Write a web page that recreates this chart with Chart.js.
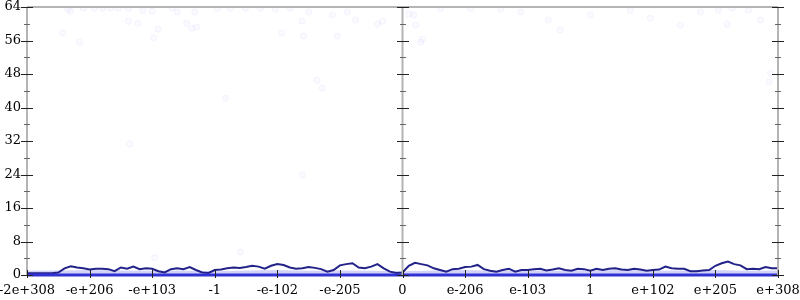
<!DOCTYPE html>
<html>
<head>
<meta charset="utf-8">
<script src="https://cdn.jsdelivr.net/npm/chart.js@4.4.1/dist/chart.umd.min.js"></script>
<style>
  html, body { margin: 0; padding: 0; background: #fff; }
  #wrap { width: 800px; height: 300px; }
</style>
</head>
<body>
<div id="wrap"><canvas id="plotChart" width="800" height="300"></canvas></div>
<script>
// x tick labels, one per integer position from -6 to 6
var xLabels = ['-2e+308', '-e+206', '-e+103', '-1', '-e-102', '-e-205', '0',
               'e-206', 'e-103', '1', 'e+102', 'e+205', 'e+308'];

// main line: sampled every 0.1 from -6 to 6
var lineX = [];
for (var i = -60; i <= 60; i++) lineX.push(i / 10);
var lineY = [
  0.4, 0.4, 0.4, 0.4, 0.4, 0.6, 1.6, 2.1, 1.8, 1.6,
  1.3, 1.5, 1.5, 1.4, 0.9, 1.8, 1.5, 2.0, 1.4, 1.6,
  1.5, 0.9, 0.6, 1.4, 1.6, 1.4, 1.9, 1.2, 0.6, 0.5,
  1.2, 1.3, 1.6, 1.8, 1.7, 1.9, 2.2, 2.0, 1.5, 2.2,
  2.6, 2.4, 1.8, 1.5, 1.6, 1.9, 1.7, 1.4, 0.8, 1.2,
  2.3, 2.6, 2.8, 1.8, 1.6, 2.0, 2.6, 1.6, 0.8, 0.5,
  0.6,
  2.2, 2.9, 2.6, 2.3, 1.6, 1.2, 0.8, 1.4, 1.5, 1.9,
  2.0, 2.4, 1.4, 1.0, 0.8, 1.2, 1.5, 0.8, 1.2, 1.2,
  1.4, 1.5, 1.1, 1.3, 1.6, 1.2, 1.0, 1.5, 1.4, 1.0,
  1.5, 1.2, 1.5, 1.6, 1.3, 1.2, 1.5, 1.3, 1.0, 1.2,
  1.3, 2.0, 1.6, 1.5, 1.5, 0.9, 0.9, 1.1, 1.2, 2.2,
  2.8, 3.2, 2.6, 2.3, 1.4, 1.5, 1.4, 1.9, 1.6, 1.6
];

// light band under the line, sampled every 0.5
var bandX = [-6, -5.5, -5, -4.5, -4, -3.5, -3, -2.5, -2, -1.5, -1, -0.5, 0,
             0.5, 1, 1.5, 2, 2.5, 3, 3.5, 4, 4.5, 5, 5.5, 6];
var bandY = [1.0, 1.1, 1.2, 1.1, 1.0, 1.1, 0.9, 1.1, 1.2, 1.0, 1.1, 1.0, 0.9,
             1.1, 1.2, 1.0, 1.1, 1.0, 1.1, 1.2, 1.0, 1.1, 1.2, 1.0, 1.1];

// faint scattered points
var dotX = [-5.43, -5.35, -5.31, -5.16, -5.10, -4.92, -4.79, -4.66, -4.54, -4.38,
            -4.38, -4.36, -4.23, -4.15, -4.00, -3.98, -3.96, -3.91, -3.68, -3.60,
            -3.45, -3.37, -3.32, -3.29, -2.96, -2.83, -2.75, -2.59, -2.51, -2.27,
            -2.03, -1.93, -1.79, -1.61, -1.58, -1.60, -1.50, -1.37, -1.28, -1.12,
            -1.04, -0.88, -0.75, -0.40, -0.32, 0.10, 0.18, 0.21, 0.29, 0.32,
            0.61, 1.09, 1.57, 1.89, 2.33, 2.52, 3.00, 3.64, 3.96, 4.44,
            4.76, 5.05, 5.19, 5.27, 5.53, 5.72, 5.86, 5.88];
var dotY = [57.8, 63.5, 63.0, 55.6, 63.7, 63.7, 63.7, 63.7, 63.7, 63.7,
            60.6, 31.3, 60.1, 63.2, 63.0, 56.6, 4.1, 58.7, 63.7, 62.8,
            60.1, 58.9, 62.8, 59.2, 63.7, 42.2, 63.7, 5.5, 63.7, 63.7,
            63.5, 57.8, 63.7, 60.6, 57.0, 23.9, 62.8, 46.5, 44.6, 62.1,
            57.0, 62.8, 60.9, 59.9, 60.6, 62.3, 62.1, 59.7, 55.6, 56.3,
            63.7, 63.7, 63.5, 62.8, 60.9, 58.5, 62.1, 63.2, 61.3, 59.7,
            62.8, 63.2, 59.9, 63.7, 63.2, 60.9, 46.1, 48.2];

function pairs(xs, ys) {
    return xs.map(function (x, k) { return { x: x, y: ys[k] }; });
}

// axes, crossing tick marks and the middle axis at x = 0
var plotFrame = {
    id: 'plotFrame',
    afterDatasetsDraw: function (chart) {
        var c = chart.ctx, a = chart.chartArea;
        var xs = chart.scales.x, ys = chart.scales.y;
        c.save();
        c.strokeStyle = '#b4b4b4';
        c.lineWidth = 2;
        c.beginPath();
        c.moveTo(a.left, a.top); c.lineTo(a.right, a.top);
        [xs.min, 0, xs.max].forEach(function (v) {
            var px = xs.getPixelForValue(v);
            c.moveTo(px, a.top); c.lineTo(px, a.bottom);
        });
        c.stroke();
        [xs.min, 0, xs.max].forEach(function (v) {
            var px = Math.round(xs.getPixelForValue(v));
            for (var t = 0; t <= 64; t += 4) {
                var py = Math.round(ys.getPixelForValue(t)) + 0.5;
                var major = t % 8 === 0;
                var h = major ? 6 : 3;
                c.strokeStyle = major ? '#222' : '#666';
                c.lineWidth = 1;
                c.beginPath();
                c.moveTo(px - h, py); c.lineTo(px + h, py);
                c.stroke();
            }
        });
        c.strokeStyle = '#222';
        c.lineWidth = 1;
        for (var v = xs.min; v <= xs.max; v++) {
            var px = Math.round(xs.getPixelForValue(v)) + 0.5;
            c.beginPath();
            c.moveTo(px, a.bottom - 5); c.lineTo(px, a.bottom + 3);
            c.stroke();
        }
        c.restore();
    }
};

var ctx = document.getElementById('plotChart').getContext('2d');

var plotChart = new Chart(ctx, {
    type: 'scatter',
    data: {
        datasets: [
            {
                type: 'line',
                label: 'base',
                data: pairs([-6, 6], [0, 0]),
                borderColor: '#3232d4',
                borderWidth: 3,
                pointRadius: 0,
                clip: false,
                order: 1
            },
            {
                type: 'line',
                label: 'line',
                data: pairs(lineX, lineY),
                borderColor: '#222288',
                borderWidth: 2,
                pointRadius: 0,
                tension: 0,
                order: 2
            },
            {
                type: 'line',
                label: 'band',
                data: pairs(bandX, bandY),
                borderWidth: 0,
                borderColor: 'rgba(0,0,0,0)',
                backgroundColor: 'rgba(110,110,240,0.3)',
                fill: 'origin',
                pointRadius: 0,
                order: 3
            },
            {
                label: 'dots',
                data: pairs(dotX, dotY),
                pointRadius: 3,
                backgroundColor: 'rgba(180,180,255,0.07)',
                borderColor: 'rgba(160,160,255,0.1)',
                borderWidth: 1,
                order: 4
            }
        ]
    },
    options: {
        responsive: false,
        animation: false,
        events: [],
        layout: {
            padding: { top: 7, right: 22, bottom: 0, left: 0 }
        },
        plugins: {
            legend: { display: false },
            tooltip: { enabled: false }
        },
        scales: {
            x: {
                type: 'linear',
                min: -6,
                max: 6,
                grid: { display: false, drawTicks: false },
                border: { display: false },
                ticks: {
                    stepSize: 1,
                    autoSkip: false,
                    maxRotation: 0,
                    padding: 8,
                    color: '#000',
                    font: { family: 'DejaVu Serif', size: 13 },
                    callback: function (v) { return xLabels[v + 6]; }
                },
                afterFit: function (s) {
                    s.height = 25;
                    s.paddingLeft = 0;
                    s.paddingRight = 0;
                }
            },
            y: {
                min: 0,
                max: 64,
                grid: { display: false, drawTicks: false },
                border: { display: false },
                ticks: {
                    stepSize: 4,
                    padding: 6,
                    color: '#000',
                    font: { family: 'DejaVu Serif', size: 13 },
                    callback: function (v) { return v % 8 === 0 ? v : ''; }
                },
                afterFit: function (s) {
                    s.width = 27;
                    s.paddingTop = 0;
                    s.paddingBottom = 0;
                }
            }
        }
    },
    plugins: [plotFrame]
});
</script>
</body>
</html>
